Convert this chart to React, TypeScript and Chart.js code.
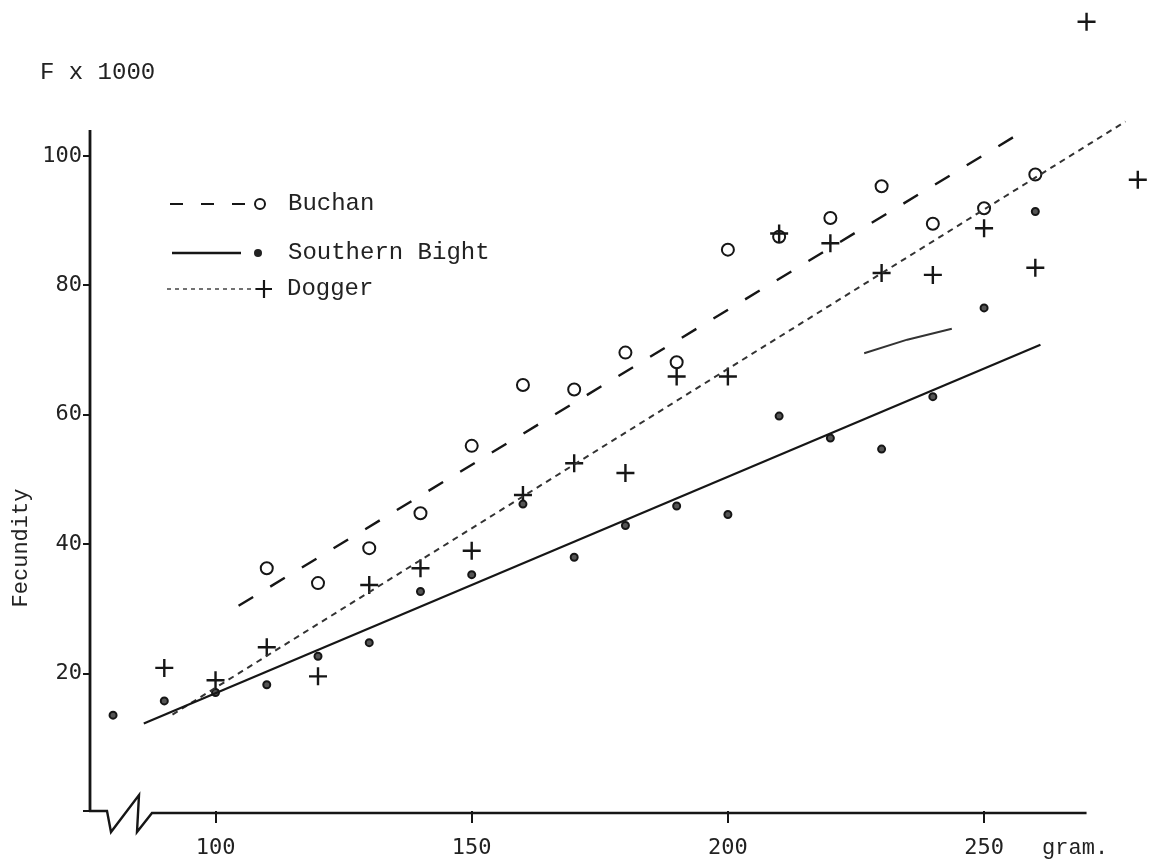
import React, { useEffect, useRef } from 'react';
import { Chart, registerables } from 'chart.js';

Chart.register(...registerables);

// ---------- data ----------
const SERIES_NAMES = ['Buchan', 'Southern Bight', 'Dogger'];

const WEIGHT_BUCHAN = [110, 120, 130, 140, 150, 160, 170, 180, 190, 200, 210, 220, 230, 240, 250, 260];
const FECUNDITY_BUCHAN = [36.3, 34.0, 39.4, 44.8, 55.2, 64.6, 63.9, 69.6, 68.1, 85.5, 87.5, 90.4, 95.3, 89.5, 91.9, 97.1];

const WEIGHT_SOUTHERN = [80, 90, 100, 110, 120, 130, 140, 150, 160, 170, 180, 190, 200, 210, 220, 230, 240, 250, 260];
const FECUNDITY_SOUTHERN = [13.6, 15.8, 17.1, 18.3, 22.7, 24.8, 32.7, 35.3, 46.2, 38.0, 42.9, 45.9, 44.6, 59.8, 56.4, 54.7, 62.8, 76.5, 91.4];

const WEIGHT_DOGGER = [90, 100, 110, 120, 130, 140, 150, 160, 170, 180, 190, 200, 210, 220, 230, 240, 250, 260, 270, 280];
const FECUNDITY_DOGGER = [20.9, 19.0, 24.1, 19.6, 33.7, 36.3, 39.0, 47.6, 52.5, 51.0, 65.9, 65.9, 88.0, 86.5, 81.9, 81.6, 88.8, 82.7, 120.7, 96.3];

// fitted lines (end points)
const FIT_BUCHAN_X = [104.5, 257];
const FIT_BUCHAN_Y = [30.5, 103.5];
const FIT_SOUTHERN_X = [86, 261];
const FIT_SOUTHERN_Y = [12.3, 70.8];
const FIT_DOGGER_X = [91.6, 277.6];
const FIT_DOGGER_Y = [13.7, 105.3];
// short stray pencil stroke near the Southern Bight line
const STRAY_X = [226.6, 235, 243.7];
const STRAY_Y = [69.5, 71.6, 73.3];

// axes
const X_TICKS = [100, 150, 200, 250];
const Y_TICKS = [20, 40, 60, 80, 100];
const X_MIN = 75.5;
const X_MAX = 282.5;
const X_AXIS_END = 270;
const Y_MIN = -1.2;
const Y_MAX = 121.9;
const Y_AXIS_TOP = 104;

const Y_TITLE = 'Fecundity';
const Y_UNIT = 'F x 1000';
const X_UNIT = 'gram.';

const INK = '#161616';
const TEXT_FONT = '"Liberation Mono", "DejaVu Sans Mono", monospace';
const TICK_FONT = '"DejaVu Sans Mono", "Liberation Mono", monospace';

const pts = (xs: number[], ys: number[]) => xs.map((x, i) => ({ x, y: ys[i] }));

const decorPlugin = {
  id: 'decor',
  afterDraw(chart: any) {
    const { ctx, chartArea, scales } = chart;
    const xs = scales.x;
    const ys = scales.y;
    const left = chartArea.left;
    const bottom = chartArea.bottom;
    ctx.save();
    ctx.strokeStyle = INK;
    ctx.lineJoin = 'miter';
    // y axis
    ctx.lineWidth = 2.8;
    ctx.beginPath();
    ctx.moveTo(left, ys.getPixelForValue(Y_AXIS_TOP));
    ctx.lineTo(left, bottom + 1);
    ctx.stroke();
    // x axis with break mark
    ctx.lineWidth = 2.4;
    ctx.beginPath();
    ctx.moveTo(left - 1, bottom);
    ctx.lineTo(left + 17, bottom);
    ctx.lineTo(left + 21, bottom + 21);
    ctx.lineTo(left + 49, bottom - 16);
    ctx.lineTo(left + 47, bottom + 21);
    ctx.lineTo(left + 62, bottom + 2);
    ctx.lineTo(xs.getPixelForValue(X_AXIS_END), bottom + 2);
    ctx.stroke();

    // texts
    ctx.fillStyle = '#222';
    ctx.textBaseline = 'middle';
    ctx.textAlign = 'left';
    ctx.font = `24px ${TEXT_FONT}`;
    ctx.fillText(Y_UNIT, 40, 73);

    ctx.font = `22px ${TEXT_FONT}`;
    ctx.fillText(X_UNIT, xs.getPixelForValue(250) + 58, 848);

    ctx.save();
    ctx.translate(21, 548);
    ctx.rotate(-Math.PI / 2);
    ctx.textAlign = 'center';
    ctx.font = `22px ${TEXT_FONT}`;
    ctx.fillText(Y_TITLE, 0, 0);
    ctx.restore();

    // legend
    const rows = [204, 253, 289];
    ctx.font = `24px ${TEXT_FONT}`;
    // Buchan
    ctx.lineWidth = 2.2;
    ctx.setLineDash([13, 18]);
    ctx.beginPath();
    ctx.moveTo(170, rows[0]);
    ctx.lineTo(248, rows[0]);
    ctx.stroke();
    ctx.setLineDash([]);
    ctx.lineWidth = 2;
    ctx.beginPath();
    ctx.arc(260, rows[0], 5, 0, Math.PI * 2);
    ctx.stroke();
    ctx.fillText(SERIES_NAMES[0], 288, rows[0]);
    // Southern Bight
    ctx.lineWidth = 2.4;
    ctx.beginPath();
    ctx.moveTo(172, rows[1]);
    ctx.lineTo(241, rows[1]);
    ctx.stroke();
    ctx.beginPath();
    ctx.arc(258, rows[1], 4, 0, Math.PI * 2);
    ctx.fillStyle = '#222';
    ctx.fill();
    ctx.fillText(SERIES_NAMES[1], 288, rows[1]);
    // Dogger
    ctx.strokeStyle = '#444';
    ctx.lineWidth = 1.6;
    ctx.setLineDash([4, 4]);
    ctx.beginPath();
    ctx.moveTo(167, rows[2]);
    ctx.lineTo(256, rows[2]);
    ctx.stroke();
    ctx.setLineDash([]);
    ctx.strokeStyle = INK;
    ctx.lineWidth = 2.2;
    ctx.beginPath();
    ctx.moveTo(256, rows[2]);
    ctx.lineTo(272, rows[2]);
    ctx.moveTo(264, rows[2] - 9);
    ctx.lineTo(264, rows[2] + 9);
    ctx.stroke();
    ctx.fillText(SERIES_NAMES[2], 287, rows[2]);
    ctx.restore();
  },
};

export default function App() {
  const canvasRef = useRef<HTMLCanvasElement | null>(null);

  useEffect(() => {
    const canvas = canvasRef.current;
    if (!canvas) return;
    const chart = new Chart(canvas, {
      type: 'scatter',
      data: {
        datasets: [
          {
            label: 'Buchan fit',
            data: pts(FIT_BUCHAN_X, FIT_BUCHAN_Y),
            showLine: true,
            borderColor: INK,
            borderWidth: 2.4,
            borderDash: [17, 20],
            pointRadius: 0,
            clip: false,
          },
          {
            label: 'Southern Bight fit',
            data: pts(FIT_SOUTHERN_X, FIT_SOUTHERN_Y),
            showLine: true,
            borderColor: INK,
            borderWidth: 2.2,
            pointRadius: 0,
            clip: false,
          },
          {
            label: 'Dogger fit',
            data: pts(FIT_DOGGER_X, FIT_DOGGER_Y),
            showLine: true,
            borderColor: '#333',
            borderWidth: 2,
            borderDash: [6, 5],
            pointRadius: 0,
            clip: false,
          },
          {
            label: 'stroke',
            data: pts(STRAY_X, STRAY_Y),
            showLine: true,
            borderColor: '#333',
            borderWidth: 2,
            pointRadius: 0,
            clip: false,
          },
          {
            label: SERIES_NAMES[0],
            data: pts(WEIGHT_BUCHAN, FECUNDITY_BUCHAN),
            pointStyle: 'circle',
            pointRadius: 6,
            pointBorderWidth: 2,
            borderColor: INK,
            backgroundColor: 'rgba(255,255,255,0)',
            clip: false,
          },
          {
            label: SERIES_NAMES[1],
            data: pts(WEIGHT_SOUTHERN, FECUNDITY_SOUTHERN),
            pointStyle: 'circle',
            pointRadius: 3.5,
            pointBorderWidth: 2,
            borderColor: INK,
            backgroundColor: '#555',
            clip: false,
          },
          {
            label: SERIES_NAMES[2],
            data: pts(WEIGHT_DOGGER, FECUNDITY_DOGGER),
            pointStyle: 'cross',
            pointRadius: 9,
            pointBorderWidth: 2.4,
            borderColor: INK,
            backgroundColor: INK,
            clip: false,
          },
        ],
      },
      options: {
        animation: false,
        responsive: false,
        maintainAspectRatio: false,
        layout: { padding: { left: 0, top: 14, right: 1.4, bottom: 0 } },
        plugins: {
          legend: { display: false },
          tooltip: { enabled: false },
          title: { display: false },
        },
        scales: {
          x: {
            type: 'linear',
            min: X_MIN,
            max: X_MAX,
            afterBuildTicks: (s: any) => {
              s.ticks = X_TICKS.map((v) => ({ value: v }));
            },
            afterFit: (s: any) => {
              s.height = 53;
            },
            border: { display: false },
            grid: {
              display: true,
              drawOnChartArea: false,
              drawTicks: true,
              tickLength: 12,
              color: INK,
              lineWidth: 2,
            },
            ticks: {
              padding: 14,
              color: '#222',
              font: { family: TICK_FONT, size: 22, lineHeight: 1 },
              maxRotation: 0,
              autoSkip: false,
              callback: (v: any) => String(v),
            },
          },
          y: {
            type: 'linear',
            min: Y_MIN,
            max: Y_MAX,
            afterBuildTicks: (s: any) => {
              s.ticks = [Y_MIN, ...Y_TICKS].map((v) => ({ value: v }));
            },
            afterFit: (s: any) => {
              s.width = 90;
            },
            border: { display: false },
            grid: {
              display: true,
              drawOnChartArea: false,
              drawTicks: true,
              tickLength: 7,
              color: INK,
              lineWidth: 2,
            },
            ticks: {
              padding: 1,
              color: '#222',
              font: { family: TICK_FONT, size: 22, lineHeight: 1 },
              autoSkip: false,
              callback: (v: any) => (v === Y_MIN ? '' : String(v)),
            },
          },
        },
      },
      plugins: [decorPlugin],
    });
    return () => chart.destroy();
  }, []);

  return (
    <div style={{ position: 'fixed', left: 0, top: 0, width: 1162, height: 864, background: '#fff' }}>
      <canvas ref={canvasRef} width={1162} height={864} style={{ display: 'block', width: 1162, height: 864 }} />
    </div>
  );
}
